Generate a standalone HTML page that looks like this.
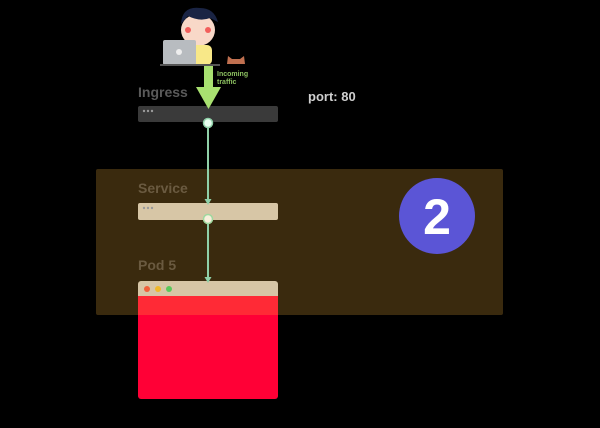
<!DOCTYPE html>
<html><head><style>html,body{margin:0;padding:0;background:#000;width:600px;height:428px;overflow:hidden}</style></head>
<body>
<svg width="600" height="428" viewBox="0 0 600 428" xmlns="http://www.w3.org/2000/svg" font-family="Liberation Sans, sans-serif">
<rect width="600" height="428" fill="#000"/>
<rect x="138" y="281" width="140" height="118" rx="3" fill="#ff0036"/>
<rect x="96" y="169" width="407" height="146" rx="2" fill="#3a2a0e"/>
<rect x="138" y="296" width="140" height="19" fill="#ff2a36"/>
<rect x="138" y="281" width="140" height="15" rx="3" fill="#d7c6a6"/>
<rect x="138" y="290" width="140" height="6" fill="#d7c6a6"/>
<circle cx="147" cy="289" r="3" fill="#f0603a"/>
<circle cx="158" cy="289" r="3" fill="#f0b82a"/>
<circle cx="169" cy="289" r="3" fill="#5ac85a"/>
<text x="138" y="97" font-size="14" font-weight="bold" fill="#5a5a5a">Ingress</text>
<text x="138" y="193" font-size="14" font-weight="bold" fill="#6a5a40">Service</text>
<text x="138" y="270" font-size="14" font-weight="bold" fill="#6a5a40">Pod 5</text>
<text x="308" y="101" font-size="13" font-weight="bold" fill="#cfcfcf">port: 80</text>
<rect x="138" y="106" width="140" height="16" rx="2" fill="#3a3a3a"/>
<circle cx="144" cy="111" r="1.2" fill="#999"/><circle cx="148" cy="111" r="1.2" fill="#999"/><circle cx="152" cy="111" r="1.2" fill="#999"/>
<rect x="138" y="203" width="140" height="17" rx="2" fill="#d7c6a6"/>
<circle cx="144" cy="208" r="1.2" fill="#999"/><circle cx="148" cy="208" r="1.2" fill="#999"/><circle cx="152" cy="208" r="1.2" fill="#999"/>
<line x1="208" y1="123" x2="208" y2="203" stroke="#8fd0a8" stroke-width="2"/>
<polygon points="204.5,199 211.5,199 208,205" fill="#8fd0a8"/>
<line x1="208" y1="220" x2="208" y2="281" stroke="#8fd0a8" stroke-width="2"/>
<polygon points="204.5,277 211.5,277 208,283" fill="#8fd0a8"/>
<circle cx="208" cy="123" r="4.5" fill="#e8fff0" stroke="#8fd0a8" stroke-width="1.5"/>
<circle cx="208" cy="219" r="4.5" fill="#f8f0dc" stroke="#9fd89f" stroke-width="1.5"/>
<rect x="204" y="66" width="9" height="22" fill="#a8e070"/>
<polygon points="196,87 221,87 208.5,109" fill="#a8e070"/>
<text x="217" y="76" font-size="7" font-weight="bold" fill="#8cc060">Incoming</text>
<text x="217" y="84" font-size="7" font-weight="bold" fill="#8cc060">traffic</text>
<ellipse cx="198" cy="30" rx="17" ry="16" fill="#f8d8c8"/>
<path d="M181,24 Q182,6 200,8 Q214,8 218,22 L210,18 Q200,22 188,16 Z" fill="#1a2444"/>
<circle cx="188" cy="30" r="3" fill="#f04040" opacity="0.8"/>
<circle cx="208" cy="30" r="3" fill="#f04040" opacity="0.8"/>
<rect x="182" y="45" width="30" height="20" rx="5" fill="#f8e888"/>
<rect x="163" y="40" width="33" height="25" rx="2" fill="#b8bcc0"/>
<circle cx="179" cy="52" r="3" fill="#eee"/>
<rect x="160" y="64" width="60" height="2" fill="#555"/>
<path d="M227,64 L228,56 L232,59 L240,59 L244,56 L245,64 Z" fill="#c07050"/>
<circle cx="437" cy="216" r="38" fill="#5b55d6"/>
<text x="437" y="234" font-size="50" font-weight="bold" fill="#fff" text-anchor="middle">2</text>
</svg>
</body></html>
